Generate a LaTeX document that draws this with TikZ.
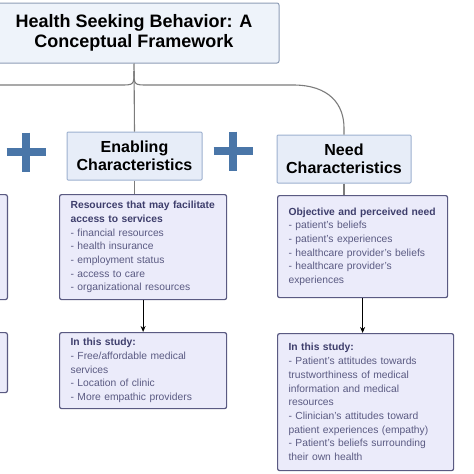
\documentclass[tikz,border=0pt]{standalone}
\usepackage{fontspec}
\setmainfont{Liberation Sans}
\usetikzlibrary{arrows.meta, positioning}

\definecolor{titlefill}{HTML}{EEF3FA}
\definecolor{titleline}{HTML}{8E9DB6}
\definecolor{charfill}{HTML}{E7EDF8}
\definecolor{charline}{HTML}{9DB0CF}
\definecolor{detfill}{HTML}{EBEBFA}
\definecolor{detline}{HTML}{5A5A82}
\definecolor{dettext}{HTML}{3E3E6C}
\definecolor{detlight}{HTML}{5A5A82}
\definecolor{plusblue}{HTML}{4A76A8}
\definecolor{connline}{HTML}{7C7C7C}

\newcommand{\dethead}[1]{\textbf{\color{dettext}#1}}

\begin{document}
\begin{tikzpicture}[x=1pt, y=-1pt,
      titlebox/.style={rectangle, draw=titleline, line width=1pt, fill=titlefill, rounded corners=2pt, align=center,
        font=\fontsize{18}{20}\selectfont\bfseries},
      charbox/.style={rectangle, draw=charline, line width=1pt, fill=charfill, rounded corners=1pt, align=center,
        minimum width=135pt, minimum height=48pt, font=\fontsize{16}{18}\selectfont\bfseries},
      detailbox/.style={rectangle, draw=detline, line width=1.2pt, fill=detfill, rounded corners=2pt, align=left,
        inner xsep=11pt, text=detlight, font=\fontsize{10.3}{13.7}\selectfont},
      conn/.style={draw=connline, line width=1.1pt},
      arr/.style={-{Stealth[length=6pt, width=5pt]}, line width=1.1pt},
      plusbar/.style={draw=plusblue, line width=7.5pt}]

      \clip (0,0) rectangle (474,474);
      \fill[white] (0,0) rectangle (474,474);

      \node[titlebox, minimum width=290pt, minimum height=60pt] (title) at (134,33) {Health Seeking Behavior: A\\Conceptual Framework};

      \node[charbox] (enab) at (134.5,156) {Enabling\\Characteristics};
      \node[charbox, minimum width=134pt] (need) at (344,159) {Need\\Characteristics};

      % boxes of the column cut off at the left
      \node[detailbox, minimum width=160pt, minimum height=105pt, anchor=north east] (pdet) at (8,194) {};
      \node[detailbox, minimum width=160pt, minimum height=60pt, anchor=north east] (pstudy) at (8,332) {};

      % Enabling column
      \node[detailbox, text width=145pt, minimum height=105pt, anchor=north west] (edet) at (59,194)
        {\dethead{Resources that may facilitate}\\\dethead{access to services}\\- financial resources\\- health insurance\\- employment status\\- access to care\\- organizational resources};
      \node[detailbox, text width=145pt, minimum height=76pt, anchor=north west] (estudy) at (59,332)
        {\dethead{In this study:}\\- Free/affordable medical\\services\\- Location of clinic\\- More empathic providers};

      % Need column
      \node[detailbox, text width=148pt, minimum height=102pt, anchor=north west] (ndet) at (277,195)
        {\dethead{Objective and perceived need}\\- patient's beliefs\\- patient's experiences\\- healthcare provider's beliefs\\- healthcare provider's\\experiences};
      \node[detailbox, text width=154pt, minimum height=137pt, anchor=north west] (nstudy) at (277,333)
        {\dethead{In this study:}\\- Patient's attitudes towards\\trustworthiness of medical\\information and medical\\resources\\- Clinician's attitudes toward\\patient experiences (empathy)\\- Patient's beliefs surrounding\\their own health};

      % Plus signs
      \foreach \cx/\cy in {26/152, 233/151} {
        \draw[plusbar] (\cx-19.5,\cy) -- (\cx+19.5,\cy);
        \draw[plusbar] (\cx,\cy-19.5) -- (\cx,\cy+19.5);
      }

      % Connectors
      \coordinate (fork) at (134,71);
      \draw[conn] (title.south) -- (enab.north);
      \draw[conn] (fork) .. controls (134,85) .. (120,85) -- (-10,85);
      \draw[conn] (fork) .. controls (134,85) .. (148,85) -- (293,85) .. controls (330,85) and (344,105) .. (344,128) -- (need.north);
      \draw[conn] (enab.south) -- (enab.south |- edet.north);
      \draw[conn] (need.south) -- (need.south |- ndet.north);

      \draw[arr] (edet.south) -- (edet.south |- estudy.north);
      \draw[arr] (ndet.south) -- (ndet.south |- nstudy.north);
    \end{tikzpicture}
\end{document}
